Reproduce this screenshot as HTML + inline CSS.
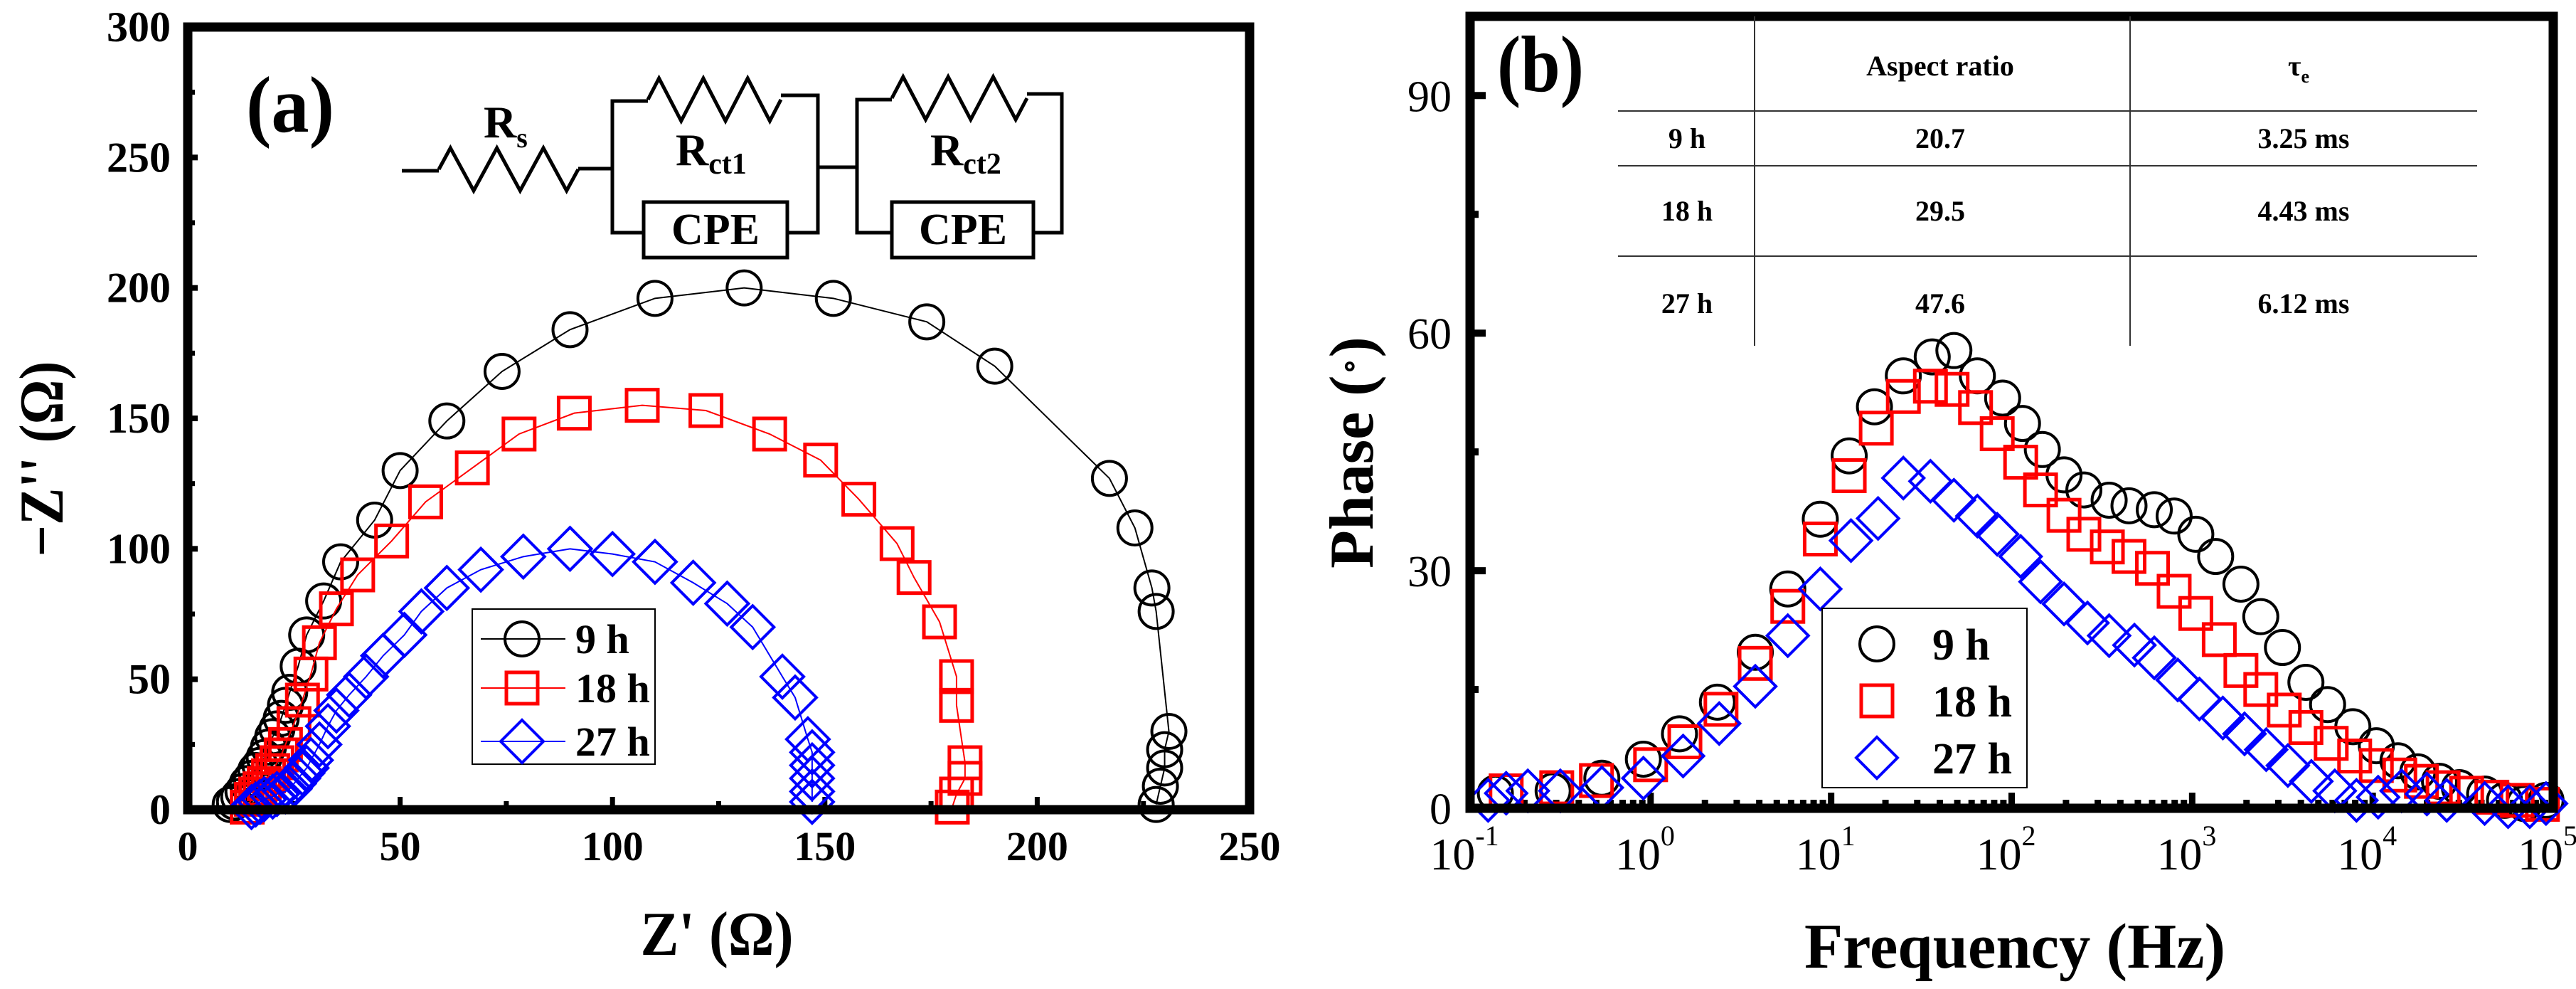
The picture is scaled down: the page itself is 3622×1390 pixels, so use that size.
<!DOCTYPE html>
<html><head><meta charset="utf-8">
<style>
html,body{margin:0;padding:0;background:#fff;}
svg{display:block;}
text{font-family:"Liberation Serif",serif;fill:#000;}
</style></head>
<body>
<svg id="fig" width="3622" height="1390" viewBox="0 0 3622 1390" xmlns="http://www.w3.org/2000/svg">
  <rect width="3622" height="1390" fill="#fff"/>
  <g id="pa"></g>
  <g id="pb"></g>
</svg>
<script>
// ---------- Panel (a) data : Nyquist ----------
const nyqX9  = [10,11,12,13,14,15,16,17,18,19,20,21,22,23,24,26,28,32,36,44,50,61,74,90,110,131,152,174,190,217,223,227,228,231,230,230,229,228];
const nyqY9  = [2,3,5,7,10,12,15,17,20,24,28,31,35,40,45,55,67,80,95,111,130,149,168,184,196,200,196,187,170,127,108,85,76,30,23,16,9,2];
const nyqX18 = [14,15,16,17,18,19,20,21,22,23,25,27,29,31,35,40,48,56,67,78,91,107,122,137,149,158,167,171,177,181,181,183,183,181,180];
const nyqY18 = [1,4,6,8,10,13,15,18,21,25,33,42,52,64,77,90,103,118,131,144,152,155,153,144,134,119,102,89,72,51,40,18,12,6,1];
const nyqX27 = [15,16,17,18,20,21,23,24,25,26,27,28,29,31,33,35,38,42,46,51,55,61,69,79,90,100,110,119,127,133,140,143,146,147,147,147,147,147];
const nyqY27 = [1,2,3,4,5,6,7,8,10,12,14,16,19,25,32,38,44,51,59,67,76,85,92,97,100,98,95,87,79,70,51,43,27,22,17,12,7,3];
const aXTicks = [0,50,100,150,200,250];
const aYTicks = [0,50,100,150,200,250,300];

// ---------- Panel (b) data : Bode phase ----------
const logF9  = [-0.86,-0.54,-0.27,-0.04,0.16,0.37,0.58,0.76,0.94,1.10,1.24,1.40,1.56,1.68,1.81,1.95,2.06,2.17,2.29,2.40,2.54,2.65,2.79,2.90,3.02,3.13,3.27,3.38,3.50,3.63,3.75,3.89,4.02,4.14,4.25,4.37,4.48,4.62,4.73,4.84,4.96];
const ph9    = [1.9,2.2,3.8,6.2,9.4,13.4,19.7,27.7,36.5,44.5,50.7,54.6,57,57.8,54.6,51.8,48.6,45.3,42.1,40.2,38.9,38.2,37.7,36.9,34.6,31.8,28.3,24.2,20.3,15.9,13.1,10.3,7.9,6.0,4.6,3.4,2.6,1.8,1.0,0.6,1.0];
const logF18 = [-0.8,-0.52,-0.3,0.0,0.19,0.39,0.58,0.76,0.94,1.10,1.25,1.40,1.55,1.67,1.80,1.92,2.05,2.16,2.29,2.40,2.53,2.65,2.78,2.90,3.02,3.15,3.27,3.38,3.51,3.63,3.77,3.90,4.02,4.15,4.27,4.39,4.52,4.66,4.80,4.94];
const ph18   = [2.2,2.6,3.5,5.5,8.4,12.5,18.3,25.5,34,42,48,52,53.3,52.9,50.6,47.3,43.7,40.2,37,34.6,33,31.8,30.3,27.4,24.6,21.3,17.4,15,12.4,10.2,8.2,6.6,5.4,4.2,3.4,2.6,1.9,1.4,1,0.5];
const logF27 = [-0.9,-0.8,-0.68,-0.5,-0.27,-0.04,0.18,0.38,0.58,0.76,0.94,1.11,1.26,1.40,1.55,1.68,1.81,1.92,2.05,2.16,2.29,2.42,2.54,2.68,2.79,2.92,3.04,3.17,3.29,3.41,3.53,3.66,3.79,3.91,4.03,4.16,4.30,4.41,4.62,4.75,4.87,4.96];
const ph27   = [1,1.9,2.2,2.2,2.6,3.8,6.6,10.7,15.4,21.8,27.7,33.8,36.6,41.7,41.3,38.9,36.9,34.6,31.8,28.6,25.8,23.4,21.8,20.6,19,16.2,13.8,11.4,9.4,7.4,5.4,3.4,2.2,1,1.4,2.2,1.8,1,0.6,0.2,0.2,0.6];
const bYTicks = [0,30,60,90];
const bXExp   = [-1,0,1,2,3,4,5];
const tableRows = ["9 h","18 h","27 h"];
const tableAR   = ["20.7","29.5","47.6"];
const tableTau  = ["3.25 ms","4.43 ms","6.12 ms"];

const NS="http://www.w3.org/2000/svg";
function mk(parent,tag,attrs,txt){const e=document.createElementNS(NS,tag);for(const k in attrs)e.setAttribute(k,attrs[k]);if(txt!==undefined)e.textContent=txt;parent.appendChild(e);return e;}

// ---------- axes (a) ----------
const aL=264,aR=1757,aT=38,aB=1138;
const ax=v=>aL+(v/250)*(aR-aL);
const ay=v=>aB-(v/300)*(aB-aT);
const pa=document.getElementById('pa');

function circle(g,x,y,r,col){return mk(g,'circle',{cx:x,cy:y,r:r,fill:'none',stroke:col,'stroke-width':4});}
function square(g,x,y,s,col){return mk(g,'rect',{x:x-s/2,y:y-s/2,width:s,height:s,fill:'none',stroke:col,'stroke-width':5});}
function diamond(g,x,y,s,col){return mk(g,'path',{d:`M${x} ${y-s/2}L${x+s/2} ${y}L${x} ${y+s/2}L${x-s/2} ${y}Z`,fill:'none',stroke:col,'stroke-width':4});}

for(const t of aYTicks){
  const y=ay(t);
  const tk=mk(pa,'line',{x1:aL,x2:aL+14,y1:y,y2:y,stroke:'#000','stroke-width':8});
  
  
  const lb=mk(pa,'text',{x:240,y:y+20,'font-size':60,'font-weight':'bold','text-anchor':'end'},String(t));
  
  
}
for(let t=25;t<300;t+=50){const y=ay(t);mk(pa,'line',{x1:aL,x2:aL+10,y1:y,y2:y,stroke:'#000','stroke-width':7});}
for(const t of aXTicks){
  const x=ax(t);
  const tk=mk(pa,'line',{x1:x,x2:x,y1:aB,y2:aB-18,stroke:'#000','stroke-width':7});
  
  
  const lb=mk(pa,'text',{x:x,y:1209,'font-size':58,'font-weight':'bold','text-anchor':'middle'},String(t));
  
  
}
for(let t=25;t<250;t+=50){const x=ax(t);mk(pa,'line',{x1:x,x2:x,y1:aB,y2:aB-12,stroke:'#000','stroke-width':7});}

function nyqSeries(X,Y,col,kind,name){
  const g=mk(pa,'g',{});
  
  
  mk(g,'polyline',{points:X.map((v,i)=>ax(v)+','+ay(Y[i])).join(' '),fill:'none',stroke:col,'stroke-width':2});
  X.forEach((v,i)=>{
    const x=ax(v),y=ay(Y[i]);
    let m;
    if(kind==='c')m=circle(g,x,y,24,col);else if(kind==='s')m=square(g,x,y,44,col);else m=diamond(g,x,y,60,col);
    
    
  });
}
nyqSeries(nyqX9,nyqY9,'#000','c','series-9h');
nyqSeries(nyqX18,nyqY18,'#f00','s','series-18h');
nyqSeries(nyqX27,nyqY27,'#00f','d','series-27h');

mk(pa,'rect',{x:aL,y:aT,width:aR-aL,height:aB-aT,fill:'none',stroke:'#000','stroke-width':13,});

mk(pa,'text',{x:346,y:185,'font-size':112,'font-weight':'bold',textLength:124,lengthAdjust:'spacingAndGlyphs',},'(a)');
mk(pa,'text',{x:1008,y:1342,'font-size':88,'font-weight':'bold','text-anchor':'middle',textLength:215,lengthAdjust:'spacingAndGlyphs',},"Z' (Ω)");
mk(pa,'text',{x:0,y:0,'font-size':88,'font-weight':'bold','text-anchor':'middle',textLength:275,lengthAdjust:'spacingAndGlyphs',transform:'translate(88,645) rotate(-90)',},"−Z'' (Ω)");

// circuit
const cg=mk(pa,'g',{fill:'none',stroke:'#000','stroke-width':5,});
function zig(x1,x2,yc,amp,n){let d=`M${x1} ${yc}`;const w=(x2-x1)/(n*2);for(let i=0;i<n*2;i++){d+=`L${x1+w*(i+0.5)} ${yc+(i%2?amp:-amp)}`;}d+=`L${x2} ${yc}`;return d;}
mk(cg,'path',{d:'M565 240L617 240'});
mk(cg,'path',{d:zig(617,813,238,30,3),});
mk(cg,'path',{d:'M813 237L861 237'});
mk(cg,'path',{d:'M911 142L861 142L861 327L905 327'});
mk(cg,'path',{d:zig(911,1098,140,30,3),});
mk(cg,'path',{d:'M1098 134L1150 134L1150 327L1107 327'});
mk(cg,'rect',{x:905,y:284,width:202,height:78,});
mk(cg,'path',{d:'M1150 235L1205 235'});
mk(cg,'path',{d:'M1254 140L1205 140L1205 327L1254 327'});
mk(cg,'path',{d:zig(1254,1444,138,30,3),});
mk(cg,'path',{d:'M1444 132L1493 132L1493 327L1453 327'});
mk(cg,'rect',{x:1254,y:284,width:199,height:78,});
const rs=mk(pa,'text',{x:680,y:193,'font-size':64,'font-weight':'bold',},'R');
mk(rs,'tspan',{'font-size':40,dy:14},'s');
const r1=mk(pa,'text',{x:950,y:232,'font-size':64,'font-weight':'bold',},'R');
mk(r1,'tspan',{'font-size':42,dy:12},'ct1');
const r2=mk(pa,'text',{x:1308,y:232,'font-size':64,'font-weight':'bold',},'R');
mk(r2,'tspan',{'font-size':42,dy:12},'ct2');
mk(pa,'text',{x:1006,y:343,'font-size':62,'font-weight':'bold','text-anchor':'middle',},'CPE');
mk(pa,'text',{x:1354,y:343,'font-size':62,'font-weight':'bold','text-anchor':'middle',},'CPE');

// legend (a)
const lga=mk(pa,'g',{});
mk(lga,'rect',{x:664,y:856,width:257,height:218,fill:'#fff',stroke:'#000','stroke-width':2});
const legA=[['9 h','#000','c',898],['18 h','#f00','s',967],['27 h','#00f','d',1042]];
legA.forEach(([t,col,k,y])=>{
  const e=mk(lga,'g',{});
  
  
  mk(e,'line',{x1:676,x2:795,y1:y,y2:y,stroke:col,'stroke-width':2});
  if(k==='c')circle(e,734,y,24,col);else if(k==='s')square(e,734,y,44,col);else diamond(e,734,y,60,col);
  mk(e,'text',{x:809,y:y+20,'font-size':58,'font-weight':'bold'},t);
});

// ---------- Panel (b) ----------
const pb=document.getElementById('pb');
const bL=2067,bR=3590,bT=23,bB=1136;
const bx=lf=>bL+(lf+1)/6*(bR-bL);
const by=v=>bB-(v/100)*(bB-bT);

for(const t of bYTicks){
  const y=by(t);
  const tk=mk(pb,'line',{x1:bL,x2:bL+22,y1:y,y2:y,stroke:'#000','stroke-width':10});
  
  
  const lb=mk(pb,'text',{x:2041,y:y+22,'font-size':62,'text-anchor':'end'},String(t));
  
  
}
for(let t=15;t<100;t+=30){const y=by(t);mk(pb,'line',{x1:bL,x2:bL+12,y1:y,y2:y,stroke:'#000','stroke-width':10});}
for(const e of bXExp){
  const x=bx(e);
  const tk=mk(pb,'line',{x1:x,x2:x,y1:bB,y2:bB-22,stroke:'#000','stroke-width':9});
  
  
  const lb=mk(pb,'text',{x:x-8,y:1222,'font-size':64,'text-anchor':'middle'},'10');
  mk(lb,'tspan',{'font-size':40,dy:-34},String(e));
  
  
  if(e<5){for(let m=2;m<10;m++){const xm=bx(e+Math.log10(m));mk(pb,'line',{x1:xm,x2:xm,y1:bB,y2:bB-12,stroke:'#000','stroke-width':9});}}
}
function bodeSeries(L,P,col,kind,name){
  const g=mk(pb,'g',{});
  
  
  L.forEach((v,i)=>{
    const x=bx(v),y=by(P[i]);
    let m;
    if(kind==='c')m=circle(g,x,y,24,col);else if(kind==='s')m=square(g,x,y,44,col);else m=diamond(g,x,y,58,col);
    
    
  });
}
bodeSeries(logF9,ph9,'#000','c','phase-9h');
bodeSeries(logF18,ph18,'#f00','s','phase-18h');
bodeSeries(logF27,ph27,'#00f','d','phase-27h');

mk(pb,'rect',{x:bL,y:bT,width:bR-bL,height:bB-bT,fill:'none',stroke:'#000','stroke-width':13,});

mk(pb,'text',{x:2105,y:128,'font-size':112,'font-weight':'bold',textLength:122,lengthAdjust:'spacingAndGlyphs',},'(b)');
mk(pb,'text',{x:2833,y:1360,'font-size':90,'font-weight':'bold','text-anchor':'middle',textLength:592,lengthAdjust:'spacingAndGlyphs',},'Frequency (Hz)');
const pt=mk(pb,'text',{x:0,y:0,'font-size':88,'font-weight':'bold','text-anchor':'middle',transform:'translate(1930,636) rotate(-90)',},'Phase (');
mk(pt,'tspan',{'font-size':40,dy:-20},'∘');
mk(pt,'tspan',{dy:20},')');

// table
const tg=mk(pb,'g',{});
[2467,2995].forEach(x=>mk(tg,'line',{x1:x,x2:x,y1:bT,y2:486,stroke:'#333','stroke-width':2}));
[156,233,360].forEach(y=>mk(tg,'line',{x1:2275,x2:3483,y1:y,y2:y,stroke:'#333','stroke-width':2}));
mk(tg,'text',{x:2728,y:106,'font-size':40,'font-weight':'bold','text-anchor':'middle',},'Aspect ratio');
const th=mk(tg,'text',{x:3232,y:106,'font-size':40,'font-weight':'bold','text-anchor':'middle',},'τ');
mk(th,'tspan',{'font-size':26,dy:10},'e');
const rowY=[208,310,440];
tableRows.forEach((r,i)=>{
  const a=mk(tg,'text',{x:2372,y:rowY[i],'font-size':40,'font-weight':'bold','text-anchor':'middle'},r);
  
  
  const b=mk(tg,'text',{x:2728,y:rowY[i],'font-size':40,'font-weight':'bold','text-anchor':'middle'},tableAR[i]);
  
  
  const c=mk(tg,'text',{x:3239,y:rowY[i],'font-size':40,'font-weight':'bold','text-anchor':'middle'},tableTau[i]);
  
  
});

// legend (b)
const lgb=mk(pb,'g',{});
mk(lgb,'rect',{x:2562,y:855,width:288,height:252,fill:'#fff',stroke:'#000','stroke-width':2});
const legB=[['9 h','#000','c',905],['18 h','#f00','s',985],['27 h','#00f','d',1065]];
legB.forEach(([t,col,k,y])=>{
  const e=mk(lgb,'g',{});
  
  
  if(k==='c')circle(e,2639,y,24,col);else if(k==='s')square(e,2639,y,44,col);else diamond(e,2639,y,58,col);
  mk(e,'text',{x:2717,y:y+22,'font-size':62,'font-weight':'bold'},t);
});
</script>
</body></html>
